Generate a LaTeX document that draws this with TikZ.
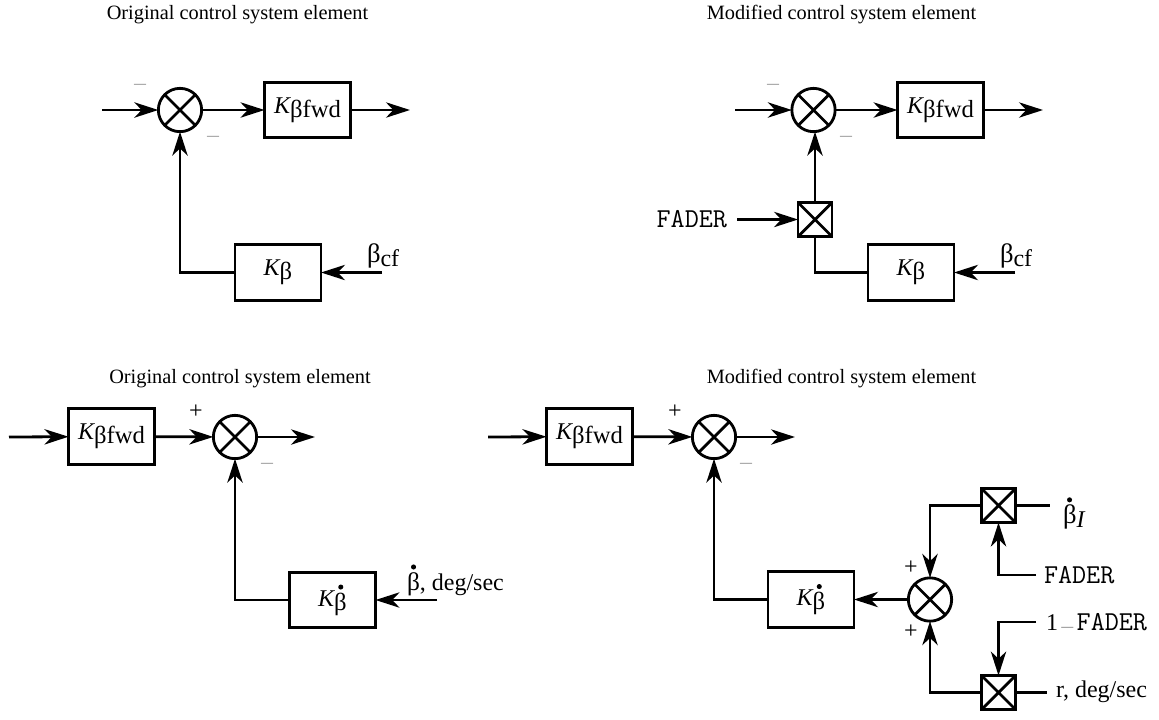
\documentclass[tikz,border=0pt]{standalone}
\usepackage{fontspec}
\setmainfont{Liberation Serif}
\usetikzlibrary{arrows.meta}
\newcommand{\bdot}{\makebox[0pt][l]{\hspace{3pt}\raisebox{15.5pt}{\tikz\fill (0,0) circle (1.9pt);}}β}
\newcommand{\Ksym}[1]{{\itshape K}\raisebox{-3pt}{\fontsize{18.5}{22}\selectfont #1}}
\newcommand{\fad}{{\ttfamily\fontsize{20.5}{22}\selectfont FADER}}
\tikzset{
  x=0.75pt,y=-0.75pt,
  every node/.style={font=\fontsize{15}{18}\selectfont,inner sep=0pt,outer sep=0pt},
  wire/.style={line width=2.1pt,line join=miter},
  arr/.style={wire,-{Stealth[length=18pt,width=11.5pt,inset=5.5pt]}},
  blockbox/.style={draw,line width=2.1pt,minimum width=64.5pt,minimum height=41.5pt},
  sumnode/.style={draw,circle,line width=2.1pt,minimum size=32.5pt,path picture={
    \draw[line width=2.1pt] (path picture bounding box.north west)--(path picture bounding box.south east)
      (path picture bounding box.north east)--(path picture bounding box.south west);}},
  mulnode/.style={draw,line width=2.1pt,minimum size=25.5pt,path picture={
    \draw[line width=2.1pt] (path picture bounding box.north west)--(path picture bounding box.south east)
      (path picture bounding box.north east)--(path picture bounding box.south west);}},
  titletext/.style={font=\fontsize{15.25}{18}\selectfont},
  minusmark/.style={font=\fontsize{9}{10}\selectfont,text=black!65},
  plusmark/.style={font=\fontsize{18}{20}\selectfont},
  blocklabel/.style={font=\fontsize{18}{20}\selectfont},
}
\begin{document}
\begin{tikzpicture}
\useasboundingbox (0,0) rectangle (1159,719);
% titles
\node[titletext] (t1) at (237.5,15) {Original control system element};
\node[titletext] (t2) at (841.5,15) {Modified control system element};
\node[titletext] (t3) at (240,379) {Original control system element};
\node[titletext] (t4) at (841.5,379) {Modified control system element};

% panel 1
\node[sumnode] (s1) at (180,110) {};
\node[blockbox,blocklabel] (f1) at (307.5,110) {\Ksym{βfwd}};
\node[blockbox,blocklabel] (k1) at (278,272.5) {\Ksym{β}};
\coordinate (i1) at (102,110);
\coordinate (o1) at (410,110);
\coordinate (c1) at (382,272.5);
\node[blocklabel,anchor=west] (l1) at (367,256) {{\fontsize{20}{22}\selectfont β}\raisebox{-3pt}{cf}};
\node[minusmark] (m1a) at (140,86) {---};
\node[minusmark] (m1b) at (213,138) {---};
\draw[arr] (i1) -- (s1);
\draw[arr] (s1) -- (f1);
\draw[arr] (f1) -- (o1);
\draw[arr] (c1) -- (k1);
\draw[arr] (k1.west) -| (s1.south);

% panel 2
\node[sumnode] (s2) at (813.5,110) {};
\node[blockbox,blocklabel] (f2) at (940.5,110) {\Ksym{βfwd}};
\node[blockbox,blocklabel] (k2) at (911,272.5) {\Ksym{β}};
\node[mulnode] (x2) at (815,219.5) {};
\coordinate (i2) at (735,110);
\coordinate (o2) at (1043,110);
\coordinate (c2) at (1015,272.5);
\coordinate (fd2) at (737,219.5);
\node[blocklabel,anchor=west] (l2) at (1000,256) {{\fontsize{20}{22}\selectfont β}\raisebox{-3pt}{cf}};
\node[anchor=east] (fl2) at (727,219) {\fad};
\node[minusmark] (m2a) at (773,86) {---};
\node[minusmark] (m2b) at (846,138) {---};
\draw[arr] (i2) -- (s2);
\draw[arr] (s2) -- (f2);
\draw[arr] (f2) -- (o2);
\draw[arr] (c2) -- (k2);
\draw[arr] (x2.north) -- (s2.south -| x2.north);
\draw[wire] (k2.west) -| (x2.south);
\draw[arr] (fd2) -- (x2.west);

% panel 3
\node[blockbox,blocklabel] (f3) at (111.5,436.5) {\Ksym{βfwd}};
\node[sumnode] (s3) at (235,437) {};
\node[blockbox,blocklabel] (k3) at (332.5,600) {\Ksym{\bdot}};
\coordinate (i3) at (9,437);
\coordinate (o3) at (315,437);
\coordinate (c3) at (437,600);
\node[blocklabel,anchor=west] (l3) at (407,580) {{\fontsize{19}{22}\selectfont\bdot}, deg/sec};
\node[plusmark] (p3) at (196,412) {+};
\node[minusmark] (m3) at (267,465) {---};
\draw[arr] (i3) -- (f3);
\draw[arr] (f3) -- (s3);
\draw[arr] (s3) -- (o3);
\draw[arr] (c3) -- (k3);
\draw[arr] (k3.west) -| (s3.south);

% panel 4
\node[blockbox,blocklabel] (f4) at (589.5,436.5) {\Ksym{βfwd}};
\node[sumnode] (s4) at (714,437) {};
\node[blockbox,blocklabel] (k4) at (811,599.5) {\Ksym{\bdot}};
\node[sumnode] (s5) at (930,599.5) {};
\node[mulnode] (x4a) at (998.5,505.5) {};
\node[mulnode] (x4b) at (998.5,692.5) {};
\coordinate (i4) at (488,437);
\coordinate (o4) at (795,437);
\coordinate (ra) at (1050,505.5);
\coordinate (fa) at (1036,575);
\coordinate (fb) at (1036,622);
\coordinate (rb) at (1047,692.5);
\node[blocklabel,anchor=west] (l4a) at (1063,513) {{\fontsize{20}{22}\selectfont\bdot}\raisebox{-3pt}{\itshape I}};
\node[anchor=west] (l4b) at (1044,575.5) {\fad};
\node[anchor=west,blocklabel] (l4c) at (1046,622) {1\hspace{2.5pt}{\fontsize{9}{10}\selectfont\color{black!70}---}\hspace{2.5pt}\fad};
\node[anchor=west,blocklabel] (l4d) at (1056,692) {r, deg/sec};
\node[plusmark] (p4) at (675,412) {+};
\node[minusmark] (m4) at (746,465) {---};
\node[plusmark] (p5) at (911,568) {+};
\node[plusmark] (p6) at (911,632) {+};
\draw[arr] (i4) -- (f4);
\draw[arr] (f4) -- (s4);
\draw[arr] (s4) -- (o4);
\draw[arr] (s5) -- (k4);
\draw[arr] (k4.west) -| (s4.south);
\draw[arr] (x4a.west) -| (s5.north);
\draw[arr] (x4b.west) -| (s5.south);
\draw[wire] (x4a.east) -- (ra);
\draw[wire] (x4b.east) -- (rb);
\draw[arr] (fa) -| (x4a.south);
\draw[arr] (fb) -| (x4b.north);
\end{tikzpicture}
\end{document}
